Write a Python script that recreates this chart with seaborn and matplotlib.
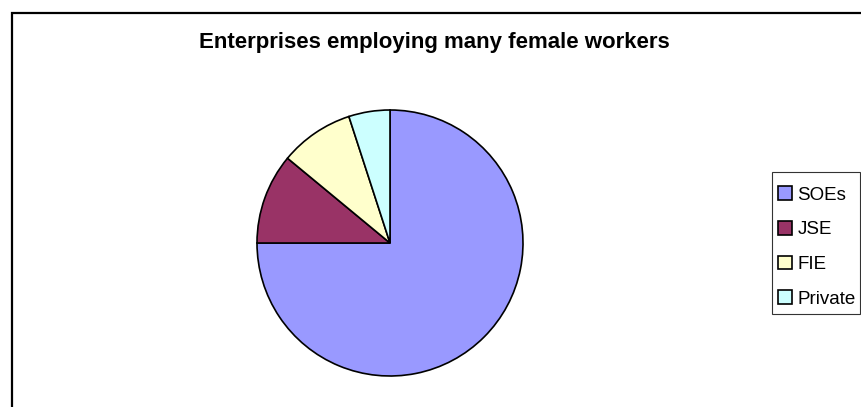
import matplotlib
matplotlib.use("Agg")
import matplotlib.pyplot as plt
from matplotlib.patches import Rectangle, Patch
import seaborn as sns

sns.set_theme(style="white")
plt.rcParams['font.family'] = ['Liberation Sans', 'DejaVu Sans']

# data
labels = ["SOEs", "JSE", "FIE", "Private"]
shares = [75, 11, 9, 5]
colors = ["#9999FF", "#993366", "#FFFFCC", "#CCFFFF"]

W, H = 862, 407
fig = plt.figure(figsize=(W / 100, H / 100), dpi=100)
fig.patch.set_facecolor("white")

# chart-area frame (right and bottom edges fall outside the picture)
fig.patches.append(Rectangle((12 / W, -0.1), 1.2, 1 - 13 / H + 0.1,
                             transform=fig.transFigure, fill=False,
                             edgecolor="black", linewidth=1.6))

# pie: centre (390, 243) px, radius 133 px
cx, cy, r = 390, 243, 133
ax = fig.add_axes([(cx - r) / W, (H - cy - r) / H, 2 * r / W, 2 * r / H])
wedges, _ = ax.pie(shares, colors=colors, startangle=90, counterclock=False,
                   wedgeprops=dict(edgecolor="black", linewidth=1.2))
ax.set_xlim(-1, 1)
ax.set_ylim(-1, 1)
ax.axis("off")

fig.text(434 / W, 1 - 48 / H, "Enterprises employing many female workers",
         ha="center", va="baseline", fontsize=16, fontweight="bold",
         color="black")

# legend box drawn separately (x 772-860, y 172-314 px)
fig.patches.append(Rectangle((772 / W, 1 - 314 / H), 88 / W, 142 / H,
                             transform=fig.transFigure, fill=False,
                             edgecolor="#333333", linewidth=0.8))

handles = [Patch(facecolor=c, edgecolor="black", linewidth=1.2) for c in colors]
leg = fig.legend(handles, labels, loc="center left",
                 bbox_to_anchor=(772 / W, 1 - 247 / H),
                 frameon=False, fontsize=13.5,
                 handlelength=0.75, handleheight=0.75, handletextpad=0.3,
                 labelspacing=0.92, borderpad=0.3, borderaxespad=0)
for t in leg.get_texts():
    t.set_color("black")

fig.savefig("out.png", dpi=100)
